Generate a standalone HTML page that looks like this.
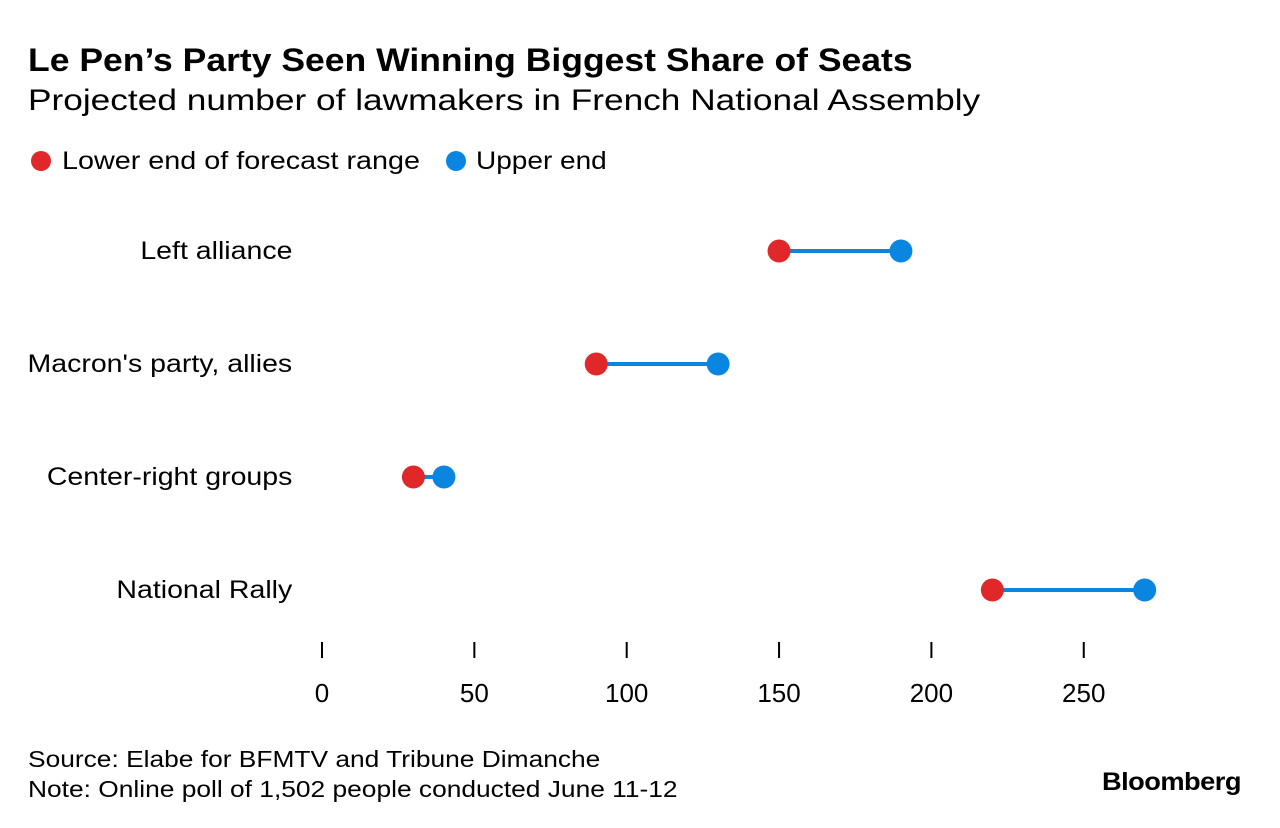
<!DOCTYPE html>
<html><head><meta charset="utf-8"><style>
body{margin:0;width:1280px;height:828px;background:#fff;font-family:"Liberation Sans",sans-serif;color:#000;position:relative;overflow:hidden}
.t{position:absolute;white-space:nowrap;transform-origin:left top}
.c{position:absolute;white-space:nowrap;transform-origin:right top;right:988px;font-size:25px}
</style></head><body>
<div class="t" style="left:28px;top:42px;font-size:32px;font-weight:bold;transform:scaleX(1.11)">Le Pen’s Party Seen Winning Biggest Share of Seats</div>
<div class="t" style="left:28px;top:84px;font-size:30px;transform:scaleX(1.175)">Projected number of lawmakers in French National Assembly</div>
<div style="position:absolute;left:31px;top:151px;width:20px;height:20px;border-radius:50%;background:#e0272a"></div>
<div class="t" style="left:62px;top:147px;font-size:25px;transform:scaleX(1.15)">Lower end of forecast range</div>
<div style="position:absolute;left:446px;top:151px;width:20px;height:20px;border-radius:50%;background:#0b86e0"></div>
<div class="t" style="left:476px;top:147px;font-size:25px;transform:scaleX(1.12)">Upper end</div>
<div class="c" style="top:237px;transform:scaleX(1.14)">Left alliance</div>
<div class="c" style="top:350px;transform:scaleX(1.14)">Macron's party, allies</div>
<div class="c" style="top:463px;transform:scaleX(1.14)">Center-right groups</div>
<div class="c" style="top:576px;transform:scaleX(1.14)">National Rally</div>
<svg id="chart" width="1280" height="828" style="position:absolute;left:0;top:0"></svg>
<div class="t" style="left:28px;top:744px;font-size:23px;line-height:30px;transform:scaleX(1.145)">Source: Elabe for BFMTV and Tribune Dimanche<br>Note: Online poll of 1,502 people conducted June 11-12</div>
<div class="t" style="left:1102px;top:768px;font-size:25px;font-weight:bold;letter-spacing:-0.5px;transform:scaleX(1.09)">Bloomberg</div>
<script>
const categories=["Left alliance","Macron's party, allies","Center-right groups","National Rally"];
const lowValues=[150,90,30,220];
const highValues=[190,130,40,270];
const ticks=[0,50,100,150,200,250];
const svg=document.getElementById('chart');
const NS='http://www.w3.org/2000/svg';
const x=v=>322+v*3.047;
const y=i=>251+i*113;
function mk(tag,attrs){const e=document.createElementNS(NS,tag);for(const k in attrs)e.setAttribute(k,attrs[k]);svg.appendChild(e);return e;}
ticks.forEach(t=>{
  const l=mk('line',{x1:x(t),x2:x(t),y1:642,y2:658,stroke:'#000','stroke-width':2});
  
  
  const tx=mk('text',{x:x(t),y:702,'text-anchor':'middle','font-size':26,'font-family':'Liberation Sans, sans-serif'});
  tx.textContent=t;
  
  
});
categories.forEach((c,i)=>{
  const ln=mk('line',{x1:x(lowValues[i]),x2:x(highValues[i]),y1:y(i),y2:y(i),stroke:'#0b86e0','stroke-width':4});
  
  
  const lo=mk('circle',{cx:x(lowValues[i]),cy:y(i),r:11.5,fill:'#e0272a'});
  
  
  const hi=mk('circle',{cx:x(highValues[i]),cy:y(i),r:11.5,fill:'#0b86e0'});
  
  
});
</script>
</body></html>
